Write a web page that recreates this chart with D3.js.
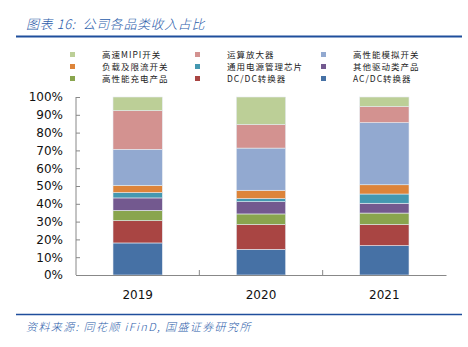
<!DOCTYPE html>
<html><head><meta charset="utf-8">
<script src="https://cdn.jsdelivr.net/npm/d3@7"></script>
<style>
body{margin:0;background:#fff;}
svg{display:block;}
</style></head>
<body>
<svg id="c" width="468" height="347"></svg>
<script>
const years = ["2019","2020","2021"];
const seriesNames = ["AC/DC转换器","DC/DC转换器","高性能充电产品","其他驱动类产品","通用电源管理芯片","负载及限流开关","高性能模拟开关","运算放大器","高速MIPI开关"];
const seriesColors = ["#4671a5","#a94543","#89a54e","#73598f","#4498b0","#dd8439","#92a9d0","#d39290","#bccf97"];
const acdc   = [18.0, 14.4, 16.5];
const dcdc   = [12.5, 13.9, 11.8];
const charge = [5.8, 6.0, 6.5];
const drive  = [7.0, 6.9, 5.5];
const power  = [3.0, 1.7, 5.2];
const load   = [4.1, 4.7, 5.2];
const analog = [20.2, 23.7, 34.9];
const opamp  = [21.7, 13.2, 9.0];
const mipi   = [7.7, 15.5, 5.4];
const legendOrder = ["高速MIPI开关","运算放大器","高性能模拟开关","负载及限流开关","通用电源管理芯片","其他驱动类产品","高性能充电产品","DC/DC转换器","AC/DC转换器"];
const yTicks = [0,10,20,30,40,50,60,70,80,90,100];

const values = [acdc, dcdc, charge, drive, power, load, analog, opamp, mipi];
const rows = years.map((y,i)=>{const r={year:y}; seriesNames.forEach((s,k)=>r[s]=values[k][i]); const tot=d3.sum(values,v=>v[i]); seriesNames.forEach(s=>r[s]=r[s]/tot*100); return r;});
const stack = d3.stack().keys(seriesNames)(rows);

const svg = d3.select("#c");
const blue = "#2a5caa";
const L=76,R=446,T=97,B=275;
const x = d3.scaleBand().domain(years).range([L,R]).paddingInner(0.6).paddingOuter(0.3);
const xb = d3.scaleBand().domain(years).range([L,R]);
const y = d3.scaleLinear().domain([0,100]).range([B,T]);

// title
svg.append("text").attr("x",26).attr("y",29).attr("fill",blue).style("white-space","pre")
  .attr("font-family","'Noto Sans CJK SC'").attr("font-size",13).attr("font-style","italic").attr("font-weight",300)
  .attr("letter-spacing",0.6).text("图表 16:  公司各品类收入占比");
svg.append("line").attr("x1",16).attr("x2",462).attr("y1",36.5).attr("y2",36.5).attr("stroke","#1f4e9c").attr("stroke-width",2);

// legend
const lcol=[70,195,321], lrow=[55,67,79];
legendOrder.forEach((name,i)=>{
  const c=i%3, r=Math.floor(i/3);
  const col = seriesColors[seriesNames.indexOf(name)];
  svg.append("rect").attr("x",lcol[c]).attr("y",lrow[r]-3).attr("width",5).attr("height",5).attr("fill",col);
  svg.append("text").attr("x",lcol[c]+32).attr("y",lrow[r]+3).attr("font-family","'Noto Sans CJK SC'")
   .attr("font-size",8.5).attr("letter-spacing",1).attr("fill","#222").text(name);
});

// bars
svg.append("g").selectAll("g").data(stack).join("g").attr("fill",(d,i)=>seriesColors[i])
  .selectAll("rect").data(d=>d).join("rect")
  .attr("x",d=>x(d.data.year)).attr("width",x.bandwidth())
  .attr("y",d=>y(d[1])).attr("height",d=>y(d[0])-y(d[1]))
  .attr("stroke","#e6ecf2").attr("stroke-width",0.6);

// y axis
const ya = svg.append("g").attr("transform",`translate(${L},0)`)
  .call(d3.axisRight(y).tickValues(yTicks).tickSize(4).tickFormat(d=>d+"%"));
ya.select(".domain").attr("stroke","#888").attr("d",`M0,${T}V${B}`);
ya.selectAll(".tick line").attr("stroke","#888");
ya.selectAll(".tick text").attr("x",-13).attr("text-anchor","end").attr("font-family","'DejaVu Sans'").attr("font-size",12).attr("fill","#111");

// x axis
const xa = svg.append("g").attr("transform",`translate(0,${B})`)
  .call(d3.axisBottom(xb).tickSize(0).tickSizeOuter(0));
xa.select(".domain").attr("stroke","#888");
xa.selectAll(".tick text").attr("dy",0).attr("y",24).attr("font-family","'DejaVu Sans'").attr("font-size",12).attr("fill","#111");
svg.append("g").selectAll("line").data(years.slice(1)).join("line")
  .attr("x1",d=>xb(d)).attr("x2",d=>xb(d)).attr("y1",B).attr("y2",B-5).attr("stroke","#888");

// footer
svg.append("line").attr("x1",16).attr("x2",462).attr("y1",314.5).attr("y2",314.5).attr("stroke","#1f4e9c").attr("stroke-width",1.5);
svg.append("text").attr("x",26).attr("y",331).attr("fill",blue)
  .attr("font-family","'Noto Sans CJK SC'").attr("font-size",11).attr("font-style","italic").attr("font-weight",300)
  .attr("letter-spacing",1.4).text("资料来源: 同花顺 iFinD, 国盛证券研究所");
</script>
</body></html>
